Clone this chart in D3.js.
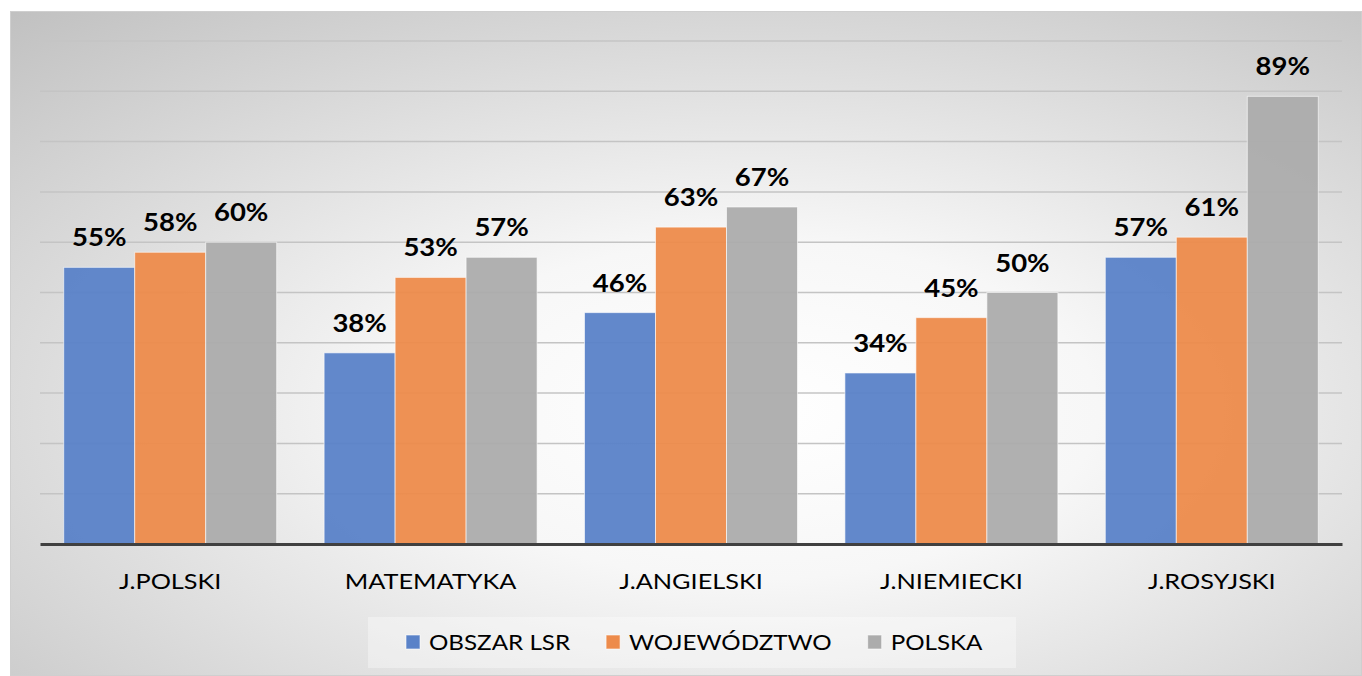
<!DOCTYPE html>
<html>
<head>
<meta charset="utf-8">
<script src="https://cdn.jsdelivr.net/npm/d3@7"></script>
<style>
  body { margin: 0; background: #fff; }
  svg { display: block; }
  text { font-family: Lato, "Open Sans", sans-serif; }
</style>
</head>
<body>
<div id="chart"></div>
<script>
var categories = ["J.POLSKI", "MATEMATYKA", "J.ANGIELSKI", "J.NIEMIECKI", "J.ROSYJSKI"];
var seriesNames = ["OBSZAR LSR", "WOJEWÓDZTWO", "POLSKA"];
var obszarLsr = [55, 38, 46, 34, 57];
var wojewodztwo = [58, 53, 63, 45, 61];
var polska = [60, 57, 67, 50, 89];
var gridTicks = [0, 10, 20, 30, 40, 50, 60, 70, 80, 90, 100];
var colors = ["#5a82c8", "#ed8b4b", "#acacac"];

var W = 1362, H = 676;
var seriesValues = [obszarLsr, wojewodztwo, polska];

var svg = d3.select("#chart").append("svg")
  .attr("width", W).attr("height", H);

// background gradient
var defs = svg.append("defs");
var grad = defs.append("radialGradient")
  .attr("id", "bg")
  .attr("cx", "55%").attr("cy", "60%").attr("r", "85%");
grad.append("stop").attr("offset", "0%").attr("stop-color", "#ffffff");
grad.append("stop").attr("offset", "30%").attr("stop-color", "#f7f7f7");
grad.append("stop").attr("offset", "100%").attr("stop-color", "#bdbdbd");

svg.append("rect")
  .attr("x", 10.5).attr("y", 11.5)
  .attr("width", W - 11).attr("height", H - 12)
  .attr("fill", "url(#bg)")
  .attr("stroke", "#cfcfcf");

var x = d3.scaleBand().domain(categories).range([40, 1342]).padding(0);
var xs = d3.scaleBand().domain(d3.range(3)).range([0, x.bandwidth()])
  .paddingInner(0).paddingOuter(0.334);
var y = d3.scaleLinear().domain([0, 100]).range([544, 41]);

// gridlines
svg.append("g").selectAll("line")
  .data(gridTicks.filter(function(d) { return d > 0; }))
  .join("line")
  .attr("x1", 40).attr("x2", 1342)
  .attr("y1", function(d) { return y(d); })
  .attr("y2", function(d) { return y(d); })
  .attr("stroke", "#c4c4c4")
  .attr("stroke-width", 1.5);

// bars
var groups = svg.append("g").selectAll("g")
  .data(categories)
  .join("g")
  .attr("transform", function(d) { return "translate(" + x(d) + ",0)"; });

function rows(d, i) {
  return seriesValues.map(function(s, j) { return { s: j, v: s[i] }; });
}

groups.selectAll("rect")
  .data(rows)
  .join("rect")
  .attr("x", function(d) { return xs(d.s); })
  .attr("width", xs.bandwidth())
  .attr("y", function(d) { return y(d.v); })
  .attr("height", function(d) { return y(0) - y(d.v); })
  .attr("fill", function(d) { return colors[d.s]; })
  .attr("fill-opacity", 0.95)
  .attr("stroke", "#ffffff")
  .attr("stroke-opacity", 0.6)
  .attr("stroke-width", 1);

// data labels (text is a bit wider in the original, so stretch it)
groups.selectAll("g.lbl")
  .data(rows)
  .join("g")
  .attr("class", "lbl")
  .attr("transform", function(d) {
    return "translate(" + (xs(d.s) + xs.bandwidth() / 2) + "," + (y(d.v) - 21) + ") scale(1.1,1)";
  })
  .append("text")
  .attr("text-anchor", "middle")
  .attr("font-size", 25)
  .attr("font-weight", "bold")
  .attr("fill", "#000")
  .text(function(d) { return d.v + "%"; });

// x axis
var xAxis = svg.append("g")
  .attr("transform", "translate(0," + y(0) + ")")
  .call(d3.axisBottom(x).tickSize(0).tickPadding(29));
xAxis.select(".domain").attr("stroke", "#404040").attr("stroke-width", 3);
xAxis.selectAll(".tick text")
  .attr("font-size", 22)
  .attr("font-family", "Lato, sans-serif")
  .attr("transform", "scale(1.15,1)")
  .attr("fill", "#000");

// legend
var legend = svg.append("g");
legend.append("rect")
  .attr("x", 368).attr("y", 617).attr("width", 648).attr("height", 51)
  .attr("fill", "#ffffff").attr("fill-opacity", 0.35);

var items = legend.selectAll("g.item")
  .data(seriesNames)
  .join("g").attr("class", "item");
items.append("rect")
  .attr("width", 14).attr("height", 14)
  .attr("y", 635)
  .attr("fill", function(d, i) { return colors[i]; })
  .attr("stroke", "#ffffff").attr("stroke-opacity", 0.6);
items.append("text")
  .attr("transform", "translate(23,650) scale(1.1,1)")
  .attr("font-size", 22)
  .attr("fill", "#000")
  .text(function(d) { return d; });

var widths = [];
items.each(function() { widths.push(23 + 1.1 * d3.select(this).select("text").node().getComputedTextLength()); });
var gap = 36;
var start = 406;
items.attr("transform", function(d, i) {
  var off = start + d3.sum(widths.slice(0, i)) + gap * i;
  return "translate(" + off + ",0)";
});
</script>
</body>
</html>
